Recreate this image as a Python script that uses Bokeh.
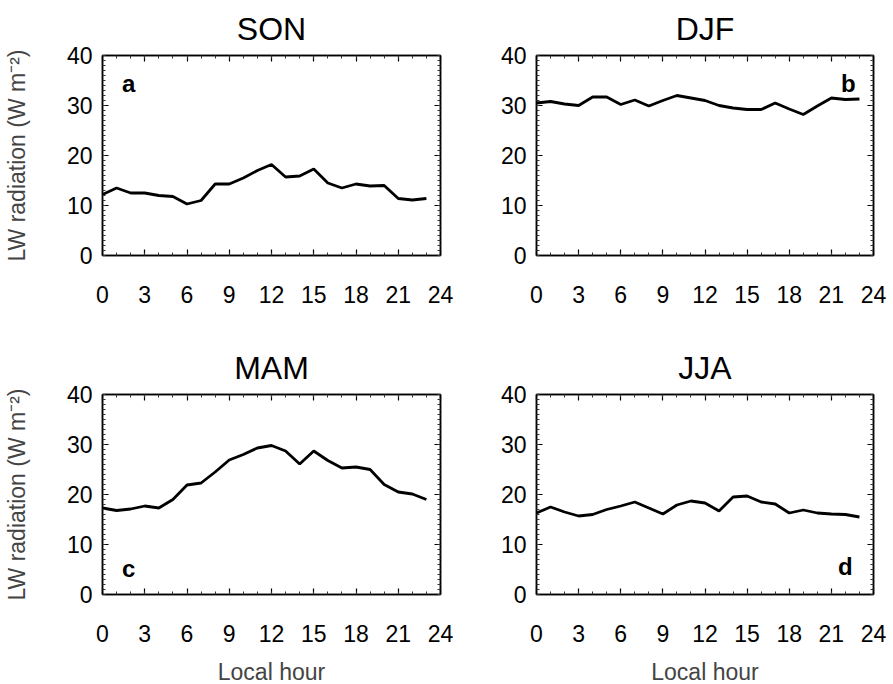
from bokeh.plotting import figure
from bokeh.layouts import column, row
from bokeh.models import Range1d, LinearAxis, FixedTicker, Label, CustomLabelingPolicy
from bokeh.embed import file_html
from bokeh.resources import INLINE

hours = list(range(24))
son = [12.2, 13.5, 12.5, 12.5, 12.0, 11.8, 10.3, 11.0, 14.3, 14.3, 15.5, 17.0,
       18.2, 15.7, 15.9, 17.3, 14.5, 13.5, 14.3, 13.9, 14.0, 11.4, 11.1, 11.4]
djf = [30.5, 30.8, 30.3, 30.0, 31.7, 31.7, 30.2, 31.1, 29.9, 31.0, 32.0, 31.5,
       31.0, 30.0, 29.5, 29.2, 29.2, 30.5, 29.3, 28.2, 29.9, 31.5, 31.2, 31.3]
mam = [17.3, 16.8, 17.1, 17.7, 17.3, 19.0, 21.9, 22.3, 24.5, 26.9, 28.0, 29.3,
       29.8, 28.7, 26.1, 28.7, 26.8, 25.3, 25.5, 25.0, 22.0, 20.5, 20.1, 19.0]
jja = [16.3, 17.5, 16.5, 15.7, 16.0, 17.0, 17.7, 18.5, 17.3, 16.1, 17.9, 18.7,
       18.3, 16.7, 19.5, 19.7, 18.5, 18.1, 16.3, 16.9, 16.3, 16.1, 16.0, 15.5]
titles = ["SON", "DJF", "MAM", "JJA"]
letters = ["a", "b", "c", "d"]
x_ticks = [0, 3, 6, 9, 12, 15, 18, 21, 24]
y_ticks = [0, 10, 20, 30, 40]
x_minor = list(range(25))
y_minor = list(range(41))

FONT = "Liberation Sans"


def style_axis(ax, labels=True, is_x=True):
    ax.ticker = FixedTicker(ticks=x_ticks if is_x else y_ticks,
                            minor_ticks=x_minor if is_x else y_minor)
    ax.major_tick_in = 6
    ax.major_tick_out = 0
    ax.minor_tick_in = 3
    ax.minor_tick_out = 0
    ax.axis_line_color = "black"
    ax.axis_line_width = 1.5
    ax.major_tick_line_color = "black"
    ax.minor_tick_line_color = "#333333"
    ax.major_tick_line_width = 1.2
    ax.minor_tick_line_width = 1
    ax.major_label_text_font = FONT
    ax.major_label_text_color = "black"
    if labels:
        ax.major_label_text_font_size = "23px"
        ax.major_label_standoff = 30 if is_x else 10
    else:
        ax.major_label_text_font_size = "0px"
        ax.major_label_policy = CustomLabelingPolicy(code="return []")
        ax.major_label_standoff = 0


def panel(ys, title, letter, lx, ly, show_ylabel, show_xlabel,
          left, top, bottom, fw):
    p = figure(frame_width=fw, frame_height=200,
               x_range=Range1d(0, 24), y_range=Range1d(0, 40),
               toolbar_location=None, output_backend="svg",
               min_border_left=left, min_border_right=20,
               min_border_top=top, min_border_bottom=bottom,
               x_axis_location=None, y_axis_location=None)
    p.grid.visible = False
    p.outline_line_color = "black"
    p.outline_line_width = 1.5
    p.background_fill_color = "white"
    p.border_fill_color = "white"

    xb = LinearAxis()
    style_axis(xb, True, True)
    if show_xlabel:
        xb.axis_label = "Local hour"
        xb.axis_label_text_font = FONT
        xb.axis_label_text_font_style = "normal"
        xb.axis_label_text_font_size = "23px"
        xb.axis_label_standoff = 14
    p.add_layout(xb, "below")
    xa = LinearAxis()
    style_axis(xa, False, True)
    p.add_layout(xa, "above")

    yl = LinearAxis()
    style_axis(yl, True, False)
    if show_ylabel:
        yl.axis_label = "LW radiation (W m\u207b\u00b2)"
        yl.axis_label_text_font = FONT
        yl.axis_label_text_font_style = "normal"
        yl.axis_label_text_font_size = "23px"
        yl.axis_label_standoff = 34
    p.add_layout(yl, "left")
    yr = LinearAxis()
    style_axis(yr, False, False)
    p.add_layout(yr, "right")

    p.title.text = title
    p.title.align = "center"
    p.title.text_font = FONT
    p.title.text_font_size = "32px"
    p.title.text_font_style = "normal"
    p.title.text_color = "black"
    p.title.standoff = 17

    p.line(hours, ys, line_color="black", line_width=2.8)
    p.add_layout(Label(x=lx, y=ly, text=letter, text_font=FONT,
                       text_font_size="24px", text_font_style="bold",
                       text_align="center", text_baseline="middle",
                       text_color="black"))
    return p


pa = panel(son, titles[0], letters[0], 1.85, 34.4, True, False, 102, 54, 66, 338)
pb = panel(djf, titles[1], letters[1], 22.2, 34.4, False, False, 76, 54, 66, 337)
pc = panel(mam, titles[2], letters[2], 1.85, 5.3, True, True, 102, 73, 91, 338)
pd = panel(jja, titles[3], letters[3], 22.0, 5.7, False, True, 76, 73, 91, 337)

layout = column(row(pa, pb, spacing=0), row(pc, pd, spacing=0), spacing=0)
open("out.html", "w").write(file_html(layout, INLINE))
